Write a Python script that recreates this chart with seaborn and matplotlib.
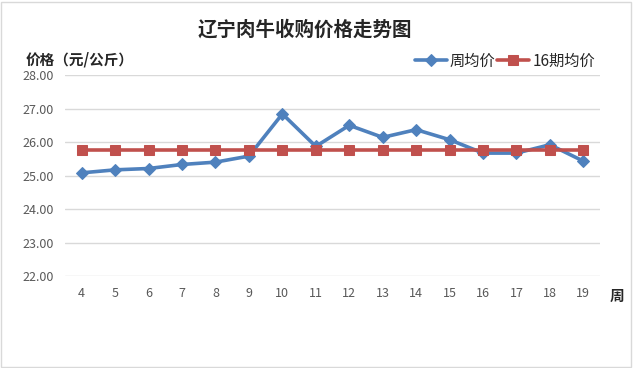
import pandas as pd
import matplotlib
matplotlib.use("Agg")
import matplotlib.pyplot as plt
import seaborn as sns

# 数据
weeks = [4, 5, 6, 7, 8, 9, 10, 11, 12, 13, 14, 15, 16, 17, 18, 19]
week_avg = [25.08, 25.17, 25.21, 25.33, 25.40, 25.58, 26.84, 25.87,
            26.50, 26.14, 26.37, 26.07, 25.67, 25.67, 25.92, 25.43]
period_avg = [25.75] * 16
y_ticks = [22, 23, 24, 25, 26, 27, 28]

sns.set_style("white")
plt.rcParams['font.family'] = ['Noto Sans CJK SC', 'DejaVu Sans']

df = pd.DataFrame({"周": weeks, "周均价": week_avg, "16期均价": period_avg})

fig = plt.figure(figsize=(6.34, 3.68), dpi=100)
ax = fig.add_axes([0.1025, 0.25, 0.844, 0.546])

for y in y_ticks:
    ax.axhline(y, color="#D9D9D9", lw=1, zorder=0)

sns.lineplot(data=df, x="周", y="周均价", ax=ax, color="#4F81BD", lw=2.6,
             marker="D", markersize=6.5, markeredgecolor="#4F81BD", label="周均价")
sns.lineplot(data=df, x="周", y="16期均价", ax=ax, color="#C0504D", lw=2.6,
             marker="s", markersize=7.5, markeredgecolor="#C0504D", label="16期均价")

ax.set_xlim(3.5, 19.5)
ax.set_ylim(22, 28)
ax.set_xticks(weeks)
ax.set_xticklabels([str(w) for w in weeks])
ax.set_yticks(y_ticks)
ax.set_yticklabels([f"{v:.2f}" for v in y_ticks])
ax.tick_params(axis="both", length=0, labelsize=9, labelcolor="#595959", pad=8)
ax.set_xlabel("")
ax.set_ylabel("")
for s in ax.spines.values():
    s.set_visible(False)

ax.legend(loc="lower right", bbox_to_anchor=(1.005, 0.99), ncol=2, frameon=False,
          fontsize=11, handlelength=2.1, handletextpad=0.2, columnspacing=0.1,
          borderaxespad=0.1)

fig.text(0.481, 0.918, "辽宁肉牛收购价格走势图", ha="center", va="center",
         fontsize=14, fontweight="bold")
fig.text(0.04, 0.837, "价格（元/公斤）", ha="left", va="center",
         fontsize=10.5, fontweight="bold")
fig.text(0.973, 0.196, "周", ha="center", va="center", fontsize=10.5, fontweight="bold")

fig.patches.append(plt.Rectangle((0.002, 0.003), 0.994, 0.992, transform=fig.transFigure,
                                 fill=False, edgecolor="#D9D9D9", lw=1))

fig.savefig("out.png", dpi=100)
